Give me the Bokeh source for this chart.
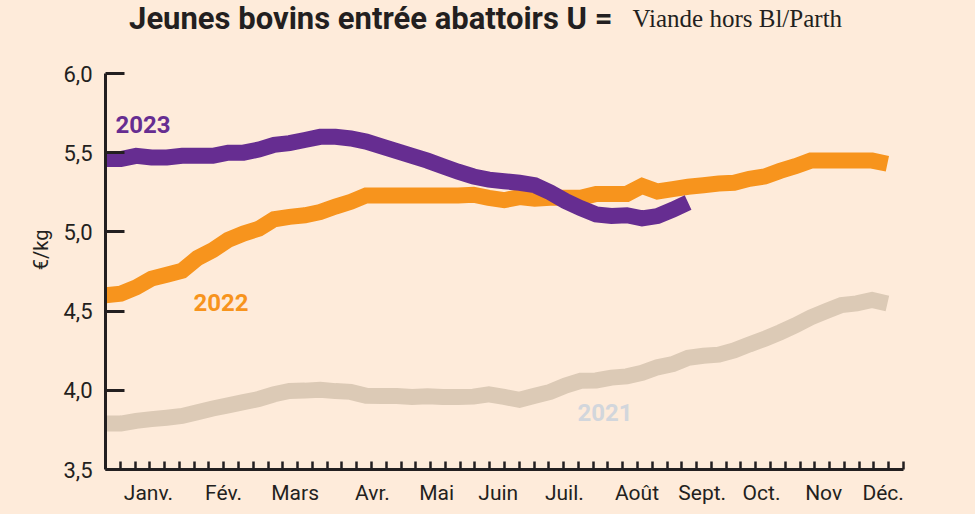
import math
from bokeh.plotting import figure
from bokeh.layouts import column, row
from bokeh.models import Range1d, FixedTicker, Label, CustomJSTickFormatter
from bokeh.core.properties import value
from bokeh.embed import file_html
from bokeh.resources import INLINE

# ---------------- data ----------------
weeks = list(range(1, 53))

y2021 = [3.79, 3.79, 3.807, 3.818, 3.827, 3.838, 3.862, 3.885, 3.905, 3.925,
         3.945, 3.975, 3.996, 3.998, 4.004, 3.995, 3.99, 3.965, 3.964, 3.964,
         3.958, 3.962, 3.957, 3.957, 3.96, 3.975, 3.958, 3.94, 3.965, 3.99,
         4.03, 4.06, 4.062, 4.08, 4.088, 4.11, 4.145, 4.165, 4.205, 4.218,
         4.225, 4.252, 4.29, 4.325, 4.366, 4.41, 4.46, 4.50, 4.538, 4.549,
         4.57, 4.548]

y2022 = [4.60, 4.61, 4.65, 4.705, 4.73, 4.755, 4.835, 4.885, 4.95, 4.99,
         5.02, 5.08, 5.095, 5.105, 5.125, 5.16, 5.19, 5.23, 5.23, 5.23,
         5.23, 5.23, 5.23, 5.23, 5.235, 5.215, 5.20, 5.22, 5.21, 5.215,
         5.215, 5.215, 5.24, 5.24, 5.24, 5.29, 5.255, 5.27, 5.285, 5.295,
         5.305, 5.31, 5.335, 5.35, 5.385, 5.415, 5.45, 5.45, 5.45, 5.45,
         5.45, 5.43]

y2023 = [5.46, 5.46, 5.48, 5.47, 5.47, 5.48, 5.48, 5.48, 5.50, 5.50,
         5.52, 5.55, 5.56, 5.58, 5.60, 5.60, 5.59, 5.57, 5.54, 5.51,
         5.48, 5.45, 5.415, 5.38, 5.35, 5.33, 5.32, 5.31, 5.295, 5.25,
         5.195, 5.15, 5.11, 5.10, 5.105, 5.085, 5.10, 5.14, 5.185]
weeks2023 = weeks[:len(y2023)]

month_labels = ["Janv.", "Fév.", "Mars", "Avr.", "Mai", "Juin", "Juil.",
                "Août", "Sept.", "Oct.", "Nov", "Déc."]
month_pos = [3.80, 8.70, 13.37, 18.41, 22.60, 26.62, 30.93, 35.67, 39.92,
             43.79, 47.84, 51.72]

y_ticks = [3.5, 4.0, 4.5, 5.0, 5.5, 6.0]

title_bold = "Jeunes bovins entrée abattoirs U ="
title_light = "Viande hors Bl/Parth"
y_unit = "€/kg"

# ---------------- style ----------------
BG = "#feebda"
DARK = "#231f20"
PURPLE = "#662d91"
ORANGE = "#f7941d"
BEIGE = "#dccab6"
LABEL2021 = "#d2d6dc"

W, H = 975, 514
HEAD_H = 45
LEFT_W = 55
MAIN_W = W - LEFT_W
MAIN_H = H - HEAD_H


def blank(width, height):
    f = figure(width=width, height=height, output_backend="svg",
               toolbar_location=None, x_axis_location=None,
               y_axis_location=None, x_range=Range1d(0, width),
               y_range=Range1d(0, height), min_border=0,
               background_fill_color=BG, border_fill_color=BG,
               outline_line_color=None)
    f.xgrid.grid_line_color = None
    f.ygrid.grid_line_color = None
    return f


# ---- header (title) ----
TITLE_BASE = HEAD_H - 18
head = blank(W, HEAD_H)
head.text(x=[612], y=[TITLE_BASE], text=[title_bold], text_align="right",
          text_baseline="alphabetic", text_font=value("Roboto"),
          text_font_style="bold", text_font_size="31px", text_color=DARK)
head.text(x=[632], y=[TITLE_BASE], text=[title_light], text_align="left",
          text_baseline="alphabetic", text_font=value("Liberation Serif"),
          text_font_size="25px", text_color=DARK)

# ---- left strip (unit label) ----
left = blank(LEFT_W, MAIN_H)
left.text(x=[40], y=[MAIN_H - (254 - HEAD_H)], text=[y_unit], angle=math.pi / 2,
          text_align="center", text_baseline="middle",
          text_font=value("Roboto"), text_font_size="20px", text_color=DARK)

# ---- main chart ----
X_END = 53.05
p = figure(width=MAIN_W, height=MAIN_H, output_backend="svg",
           toolbar_location=None,
           x_range=Range1d(1, X_END), y_range=Range1d(3.5, 6.0),
           min_border_left=105 - LEFT_W, min_border_right=72,
           min_border_top=73 - HEAD_H, min_border_bottom=45,
           background_fill_color=BG, border_fill_color=BG,
           outline_line_color=None)
p.xgrid.grid_line_color = None
p.ygrid.grid_line_color = None

# week tick marks (54 evenly spaced marks along the axis)
step = (X_END - 1) / 54.0
minor = [1 + step * k for k in range(1, 55)]

xa = p.xaxis[0]
xa.ticker = FixedTicker(ticks=month_pos, minor_ticks=minor)
xa.formatter = CustomJSTickFormatter(
    args=dict(labels=month_labels, pos=month_pos),
    code="const i = pos.indexOf(tick); return i >= 0 ? labels[i] : '';")
xa.axis_line_color = DARK
xa.axis_line_width = 3
xa.major_tick_in = 0
xa.major_tick_out = 0
xa.minor_tick_in = 8
xa.minor_tick_out = 0
xa.minor_tick_line_color = DARK
xa.minor_tick_line_width = 2.5
xa.major_label_text_font = "Roboto"
xa.major_label_text_font_size = "21px"
xa.major_label_text_color = DARK
xa.major_label_standoff = 11

ya = p.yaxis[0]
ya.ticker = FixedTicker(ticks=y_ticks, minor_ticks=[])
ya.formatter = CustomJSTickFormatter(
    code="return tick.toFixed(1).replace('.', ',');")
ya.axis_line_color = DARK
ya.axis_line_width = 3
ya.major_tick_in = 19
ya.major_tick_out = 0
ya.major_tick_line_color = DARK
ya.major_tick_line_width = 3
ya.minor_tick_in = 0
ya.minor_tick_out = 0
ya.major_label_text_font = "Roboto"
ya.major_label_text_font_size = "22px"
ya.major_label_text_color = DARK
ya.major_label_standoff = 13

# ---------------- lines ----------------
p.line(weeks, y2021, line_color=BEIGE, line_width=16, line_join="miter", line_cap="butt")
p.line(weeks, y2022, line_color=ORANGE, line_width=16, line_join="miter", line_cap="butt")
p.line(weeks2023, y2023, line_color=PURPLE, line_width=16, line_join="miter", line_cap="butt")

# ---------------- series labels ----------------
def lab(x, y, text, color):
    p.add_layout(Label(x=x, y=y, text=text, text_color=color, text_font="Roboto",
                       text_font_size="24px", text_font_style="bold",
                       text_align="left", text_baseline="middle"))

lab(1.65, 5.681, "2023", PURPLE)
lab(6.74, 4.557, "2022", ORANGE)
lab(31.79, 3.86, "2021", LABEL2021)

layout = column(head, row(left, p, spacing=0), spacing=0,
                styles={"background-color": BG})

open("out.html", "w").write(file_html(layout, INLINE))
